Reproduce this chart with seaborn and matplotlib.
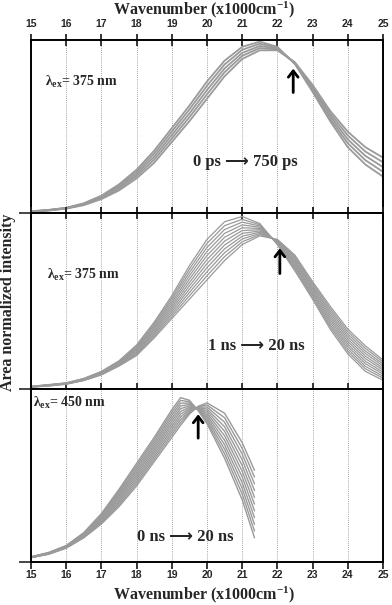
import matplotlib
matplotlib.use("Agg")
import matplotlib.pyplot as plt
import pandas as pd
import seaborn as sns

# Wavenumber grids (x1000 cm-1)
wn_full = [15, 15.5, 16, 16.5, 17, 17.5, 18, 18.5, 19, 19.5, 20,
           20.5, 21, 21.5, 22, 22.5, 23, 23.5, 24, 24.5, 25]
wn_short = [15, 15.5, 16, 16.5, 17, 17.5, 18, 18.5, 19, 19.25, 19.5,
            19.75, 20, 20.5, 21, 21.35]

# Panel 1: lambda_ex = 375 nm, 0 ps -> 750 ps
ps_000 = [.007, .014, .025, .045, .080, .130, .200, .290, .410, .530, .660,
          .790, .890, .940, .940, .870, .740, .590, .470, .380, .320]
ps_190 = [.008, .015, .026, .048, .085, .139, .213, .308, .430, .553, .685,
          .813, .908, .953, .945, .868, .730, .575, .448, .355, .293]
ps_375 = [.009, .016, .028, .051, .090, .148, .225, .325, .450, .575, .710,
          .835, .925, .965, .950, .865, .720, .560, .425, .330, .265]
ps_560 = [.009, .017, .029, .053, .095, .156, .238, .343, .470, .598, .735,
          .858, .943, .978, .955, .863, .710, .545, .403, .305, .238]
ps_750 = [.010, .018, .030, .056, .100, .165, .250, .360, .490, .620, .760,
          .880, .960, .990, .960, .860, .700, .530, .380, .280, .210]

# Panel 2: lambda_ex = 375 nm, 1 ns -> 20 ns
ns_01 = [.010, .017, .027, .048, .080, .130, .190, .290, .400, .510, .620,
         .730, .820, .870, .850, .760, .610, .470, .340, .245, .165]
ns_03 = [.011, .018, .028, .049, .082, .133, .196, .299, .413, .529, .643,
         .752, .836, .877, .847, .751, .600, .457, .326, .231, .154]
ns_05 = [.011, .019, .029, .050, .084, .136, .202, .308, .426, .548, .666,
         .774, .852, .884, .844, .742, .590, .444, .312, .216, .142]
ns_07 = [.012, .019, .029, .052, .086, .139, .208, .317, .439, .567, .689,
         .796, .868, .891, .841, .733, .580, .431, .298, .202, .131]
ns_09 = [.012, .020, .030, .053, .088, .142, .214, .326, .452, .586, .712,
         .818, .884, .898, .838, .724, .570, .418, .284, .187, .119]
ns_11 = [.013, .021, .031, .054, .090, .145, .220, .335, .465, .605, .735,
         .840, .900, .905, .835, .715, .560, .405, .270, .173, .108]
ns_12 = [.013, .022, .032, .055, .092, .148, .226, .344, .478, .624, .758,
         .862, .916, .912, .832, .706, .550, .392, .256, .158, .096]
ns_14 = [.014, .023, .033, .056, .094, .151, .232, .353, .491, .643, .781,
         .884, .932, .919, .829, .697, .540, .379, .242, .144, .085]
ns_16 = [.014, .023, .033, .058, .096, .154, .238, .362, .504, .662, .804,
         .906, .948, .926, .826, .688, .530, .366, .228, .129, .073]
ns_18 = [.015, .024, .034, .059, .098, .157, .244, .371, .517, .681, .827,
         .928, .964, .933, .823, .679, .520, .353, .214, .115, .062]
ns_20 = [.015, .025, .035, .060, .100, .160, .250, .380, .530, .700, .850,
         .950, .980, .940, .820, .670, .510, .340, .200, .100, .050]

# Panel 3: lambda_ex = 450 nm, 0 ns -> 20 ns
b_00 = [.025, .045, .080, .140, .220, .320, .440, .580, .720, .790, .855,
        .900, .920, .860, .690, .530]
b_02 = [.026, .046, .082, .143, .226, .330, .453, .594, .736, .806, .863,
        .898, .908, .834, .657, .491]
b_04 = [.026, .047, .083, .146, .232, .340, .466, .608, .752, .822, .871,
        .895, .896, .808, .624, .452]
b_06 = [.027, .048, .085, .149, .238, .350, .479, .622, .768, .838, .879,
        .893, .884, .782, .591, .413]
b_08 = [.027, .049, .086, .152, .244, .360, .492, .636, .784, .854, .887,
        .890, .872, .756, .558, .374]
b_10 = [.028, .050, .088, .155, .250, .370, .505, .650, .800, .870, .895,
        .888, .860, .730, .525, .335]
b_12 = [.028, .051, .089, .158, .256, .380, .518, .664, .816, .886, .903,
        .885, .848, .704, .492, .296]
b_14 = [.029, .052, .091, .161, .262, .390, .531, .678, .832, .902, .911,
        .883, .836, .678, .459, .257]
b_16 = [.029, .053, .092, .164, .268, .400, .544, .692, .848, .918, .919,
        .880, .824, .652, .426, .218]
b_18 = [.030, .054, .094, .167, .274, .410, .557, .706, .864, .934, .927,
        .878, .812, .626, .393, .179]
b_20 = [.030, .055, .095, .170, .280, .420, .570, .720, .880, .950, .935,
        .875, .800, .600, .360, .140]

panels = [
    (wn_full, [ps_000, ps_190, ps_375, ps_560, ps_750]),
    (wn_full, [ns_01, ns_03, ns_05, ns_07, ns_09, ns_11, ns_12, ns_14,
               ns_16, ns_18, ns_20]),
    (wn_short, [b_00, b_02, b_04, b_06, b_08, b_10, b_12, b_14, b_16,
                b_18, b_20]),
]
excitation = ["375 nm", "375 nm", "450 nm"]
time_range = ["0 ps \u27f6 750 ps", "1 ns \u27f6 20 ns", "0 ns \u27f6 20 ns"]

sns.set_style("ticks")
plt.rcParams.update(
    {
        "font.family": ["Liberation Serif", "DejaVu Sans"],
        "font.weight": "bold",
        "mathtext.fontset": "custom",
        "mathtext.rm": "Liberation Serif:bold",
        "mathtext.it": "Liberation Serif:bold",
        "mathtext.bf": "Liberation Serif:bold",
        "axes.linewidth": 1.4,
        "axes.edgecolor": "black",
    }
)

GREY = "#9a9a9a"
fig, axes = plt.subplots(
    3, 1, figsize=(3.92, 6.05), dpi=100,
    gridspec_kw={"height_ratios": [173, 176, 173]},
)
fig.subplots_adjust(left=0.079, right=0.977, top=0.934, bottom=0.071, hspace=0)

label_pos = [(15.4, 0.757), (15.45, 0.648), (15.05, 0.92)]
text_pos = [(21.1, 0.295), (21.4, 0.245), (19.37, 0.145)]
arrow_pos = [(22.45, 0.68, 0.85), (22.07, 0.64, 0.815), (19.75, 0.70, 0.87)]
line_width = [1.3, 0.9, 1.0]

for i, ax in enumerate(axes):
    xs, curves = panels[i]
    rows = []
    for c, values in enumerate(curves):
        for x, y in zip(xs, values):
            rows.append({"Wavenumber": x, "Intensity": y, "Curve": c})
    df = pd.DataFrame(rows)
    sns.lineplot(
        data=df, x="Wavenumber", y="Intensity", units="Curve",
        estimator=None, color=GREY, lw=line_width[i], ax=ax, legend=False,
    )
    for line in ax.get_lines():
        line.set_solid_joinstyle("round")
    ax.set_xlim(15, 25)
    ax.set_ylim(0, 1)
    ax.set_xticks(range(15, 26))
    ax.set_yticks([0])
    ax.set_yticklabels([])
    ax.set_ylabel("")
    ax.set_xlabel("")
    for g in range(16, 25):
        ax.axvline(g, color="#888888", lw=0.6, ls=(0, (1, 1.5)), zorder=0)
    ax.tick_params(axis="y", direction="out", length=9, width=1.2)
    ax.tick_params(axis="x", direction="inout", length=8, width=1.3,
                   top=True, bottom=True, labelbottom=False, labeltop=False)

    lx, ly = label_pos[i]
    ax.text(lx, ly, r"$\lambda_{ex}$= " + excitation[i], fontsize=10,
            ha="left", va="center")
    tx, ty = text_pos[i]
    ax.text(tx, ty, time_range[i], fontsize=12, ha="center", va="center")
    axx, y0, y1 = arrow_pos[i]
    ax.annotate("", xy=(axx, y1), xytext=(axx, y0),
                arrowprops=dict(arrowstyle="->,head_width=0.35,head_length=0.45",
                                lw=2, color="black"))

top, bottom = axes[0], axes[2]
top.tick_params(axis="x", labeltop=True, pad=4)
bottom.tick_params(axis="x", direction="out", length=5, top=False,
                   labelbottom=True, pad=1)
for ax in (top, bottom):
    for lab in ax.get_xticklabels():
        lab.set_fontfamily("Liberation Sans")
        lab.set_fontweight("bold")
        lab.set_fontsize(7.5)

fig.text(0.52, 1 - 10 / 605, r"Wavenumber (x1000cm$^{-1}$)", fontsize=11.5,
         ha="center", va="center")
fig.text(0.52, 1 - 595 / 605, r"Wavenumber (x1000cm$^{-1}$)", fontsize=11.5,
         ha="center", va="center")
fig.text(0.02, 1 - 302 / 605, "Area normalized intensity", rotation=90,
         ha="center", va="center", fontsize=11.5)

fig.savefig("out.png", dpi=100)
